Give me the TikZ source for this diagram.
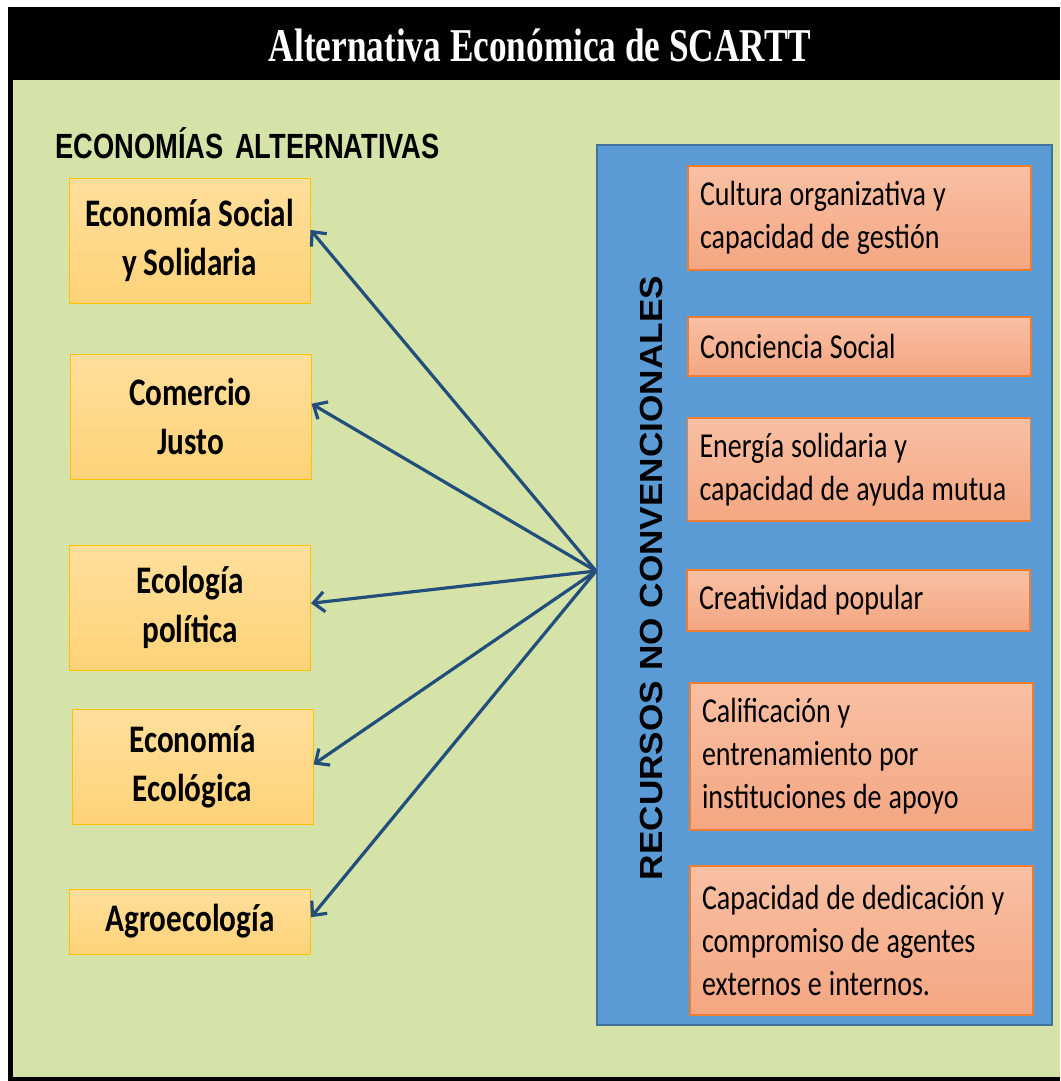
\documentclass[tikz,border=0pt]{standalone}
\usepackage{fontspec}
\usetikzlibrary{arrows.meta}
\newfontfamily\titlefont{Liberation Serif}[FakeStretch=0.75]
\newfontfamily\headfont{Liberation Sans}[FakeStretch=0.78]
\newfontfamily\vertfont{Liberation Sans}[FakeStretch=1.1]
\newfontfamily\boxfont{Carlito}[FakeStretch=0.8]
\hyphenpenalty=10000
\exhyphenpenalty=10000
\definecolor{bggreen}{RGB}{214,227,168}
\definecolor{bluefill}{RGB}{91,155,213}
\definecolor{blueedge}{RGB}{65,113,156}
\definecolor{ytop}{RGB}{255,223,156}
\definecolor{ybot}{RGB}{255,210,120}
\definecolor{yedge}{RGB}{255,192,0}
\definecolor{otop}{RGB}{248,192,163}
\definecolor{obot}{RGB}{244,166,130}
\definecolor{oedge}{RGB}{237,125,49}
\definecolor{arrowblue}{RGB}{34,78,124}
\begin{document}
\begin{tikzpicture}[x=1pt,y=-1pt,
  lbox/.style={draw=yedge, line width=1pt, top color=ytop, bottom color=ybot,
    minimum width=241pt, align=center, inner sep=0pt,
    font=\boxfont\bfseries\fontsize{39}{49}\selectfont},
  rbox/.style={draw=oedge, line width=1.2pt, top color=otop, bottom color=obot,
    text width=319pt, inner xsep=12pt, inner ysep=0pt, align=left,
    font=\boxfont\fontsize{35}{43}\selectfont,
    execute at begin node={\spaceskip=7pt plus 2pt minus 1pt\relax}},
  arr/.style={draw=arrowblue, line width=3.2pt,
    -{Straight Barb[length=11pt,width=20pt,line width=3.2pt]}}
]
\useasboundingbox (0,0) rectangle (1060,1081);
\fill[white] (0,0) rectangle (1060,1081);
\fill[black] (8,7) rectangle (1060,1081);
\fill[bggreen] (13,80) rectangle (1060,1077);

\node[anchor=base, text=white, inner sep=0pt,
  font=\titlefont\bfseries\fontsize{47}{56}\selectfont] (title) at (540,62)
  {Alternativa Económica de SCARTT};

\node[anchor=base west, inner sep=0pt,
  font=\headfont\bfseries\fontsize{35}{42}\selectfont] (head) at (55,158)
  {ECONOMÍAS\hspace{4pt} ALTERNATIVAS};

\node[draw=blueedge, line width=2pt, fill=bluefill, minimum width=455pt,
  minimum height=880pt, inner sep=0pt] (blue) at (824.5,585) {};

\node[rotate=90, inner sep=0pt, font=\vertfont\bfseries\fontsize{32}{38}\selectfont]
  (vert) at (651,578) {RECURSOS NO CONVENCIONALES};

\node[lbox, minimum height=125pt] (l1) at (189.5,240.5) {Economía Social\\y Solidaria};
\node[lbox, minimum height=125pt] (l2) at (190.5,416.5) {Comercio\\Justo};
\node[lbox, minimum height=125pt] (l3) at (190,607.5) {Ecología\\política};
\node[lbox, minimum height=115pt] (l4) at (192.5,766.5) {Economía\\Ecológica};
\node[lbox, minimum height=65pt] (l5) at (190,921.5) {Agroecología};

\node[rbox, minimum height=104pt] (r1) at (859.5,218) {Cultura organizativa y\\capacidad de gestión};
\node[rbox, minimum height=59pt] (r2) at (859.5,346.5) {Conciencia Social};
\node[rbox, minimum height=103pt] (r3) at (859,469.5) {Energía solidaria y\\capacidad de ayuda mutua};
\node[rbox, minimum height=61pt] (r4) at (858.5,600.5) {Creatividad popular};
\node[rbox, minimum height=147pt] (r5) at (861.5,756.5) {Calificación y\\entrenamiento por\\instituciones de apoyo};
\node[rbox, minimum height=149pt] (r6) at (861.5,940.5) {Capacidad de dedicación y\\compromiso de agentes\\externos e internos.};

\coordinate (hub) at (blue.west |- 0,571);
\draw[arr] (hub) -- (l1.5.5);
\draw[arr] (hub) -- (l2.6);
\draw[arr] (hub) -- (l3.2.6);
\draw[arr] (hub) -- (l4.1);
\draw[arr] (hub) -- (l5.2.1);
\end{tikzpicture}
\end{document}
